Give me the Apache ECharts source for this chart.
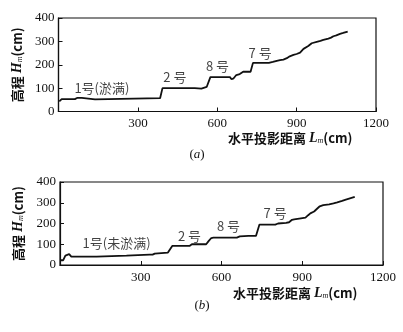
<!DOCTYPE html>
<html>
<head>
<meta charset="utf-8">
<script src="https://cdn.jsdelivr.net/npm/echarts@6/dist/echarts.min.js"></script>
<style>
html,body{margin:0;padding:0;background:#fff;}
#c{width:403px;height:332px;}
</style>
</head>
<body>
<div id="c"></div>
<script>
// ---- data (a) ----
const aX = [3,12,62,70,88,94,138,145,384,393,515,522,540,560,566,574,648,654,662,672,685,698,726,735,795,810,825,837,850,863,874,888,900,913,926,944,957,976,990,1001,1020,1030,1039,1050,1064,1076,1093];
const aY = [43,53,53,58,58,52,52,57,57,100,100,93,98,105,107,147,147,138,142,156,160,170,170,208,208,212,217,220,222,228,236,242,246,252,268,280,292,298,302,306,312,316,322,326,332,336,342];
// ---- data (b) ----
const bX = [0,12,20,26,34,42,136,142,247,253,333,338,344,352,358,401,408,417,481,490,543,552,562,570,657,662,668,700,716,722,728,741,800,810,840,851,862,870,895,912,922,930,944,954,965,978,1000,1016,1030,1048,1062,1077,1095];
const bY = [23,23,45,52,52,40,40,45,45,50,50,55,50,55,60,60,52,92,92,100,100,115,130,132,132,125,138,140,140,145,140,195,195,200,203,206,218,220,225,228,240,249,258,270,283,289,292,297,302,309,315,321,328];
// ---- annotations ----
const aNotes = [[164,100,'1号(淤满)'],[440,148,'2 号'],[601,195,'8 号'],[762,250,'7 号']];
const bNotes = [[210,106,'1号(未淤满)'],[481,140,'2 号'],[626,188,'8 号'],[799,251,'7 号']];
// ---- tick settings ----
const xTicks = {min:0, max:1200, interval:300};
const yTicks = {min:0, max:400, interval:100};

const zip = (xs, ys) => xs.map((x,i)=>[x, ys[i]]);
const ink = '#111';
const numFont = 'Liberation Serif';
const cjk = 'Noto Sans CJK SC';

function xAxis(idx){
  return {
    gridIndex: idx, type:'value', min:xTicks.min, max:xTicks.max, interval:xTicks.interval,
    axisLine:{show:true, lineStyle:{color:ink, width:1.2}},
    axisTick:{show:true, inside:true, length:4, lineStyle:{color:ink}},
    axisLabel:{color:ink, fontFamily:numFont, fontSize:13, margin:6,
      formatter: v => v === 0 ? '' : String(v)},
    splitLine:{show:false}
  };
}
function yAxis(idx, gap){
  return {
    gridIndex: idx, type:'value', min:yTicks.min, max:yTicks.max, interval:yTicks.interval,
    axisLine:{show:true, lineStyle:{color:ink, width:1.2}},
    axisTick:{show:true, inside:true, length:4, lineStyle:{color:ink}},
    axisLabel:{color:ink, fontFamily:numFont, fontSize:13, margin:4},
    splitLine:{show:false},
    name:'{a|高程 }{i|H}{s|m}{a|(cm)}',
    nameLocation:'middle', nameGap:gap, nameRotate:90,
    nameTextStyle:{
      rich:{
        a:{fontFamily:cjk, fontSize:13, color:ink, fontWeight:'bold'},
        i:{fontFamily:numFont, fontStyle:'italic', fontSize:14, color:ink, fontWeight:'bold'},
        s:{fontFamily:numFont, fontStyle:'italic', fontSize:8, color:ink, verticalAlign:'bottom', padding:[5,0,0,0]}
      }
    }
  };
}
function lineSeries(idx, data){
  return {type:'line', xAxisIndex:idx, yAxisIndex:idx, data, showSymbol:false, symbol:'none',
    lineStyle:{color:ink, width:1.8}, animation:false, silent:true};
}
function noteSeries(idx, notes){
  return {type:'scatter', xAxisIndex:idx, yAxisIndex:idx, data:notes, symbolSize:0, silent:true,
    animation:false,
    label:{show:true, position:'inside', color:ink, fontFamily:cjk, fontSize:13,
      formatter: p => p.value[2]}};
}
function xName(x, y){
  return {type:'text', x, y, silent:true,
    style:{text:'{a|水平投影距离 }{i|L}{s|m}{a|(cm)}', verticalAlign:'middle',
      rich:{
        a:{fontFamily:cjk, fontSize:13, fill:ink, fontWeight:'bold'},
        i:{fontFamily:numFont, fontStyle:'italic', fontSize:14, fill:ink, fontWeight:'bold'},
        s:{fontFamily:numFont, fontStyle:'italic', fontSize:8, fill:ink, padding:[6,0,0,0]}
      }}};
}
function caption(x, y, letter){
  return {type:'text', x, y, silent:true,
    style:{text:'{p|(}{i|'+letter+'}{p|)}', align:'center', verticalAlign:'middle',
      rich:{p:{fontFamily:numFont, fontSize:13, fill:ink}, i:{fontFamily:numFont, fontStyle:'italic', fontSize:13, fill:ink}}}};
}

const chart = echarts.init(document.getElementById('c'), null, {renderer:'canvas'});
chart.setOption({
  backgroundColor:'#fff',
  animation:false,
  grid:[
    {left:58.5, right:27, top:18, height:93.5, show:true, borderColor:ink, borderWidth:1.2, containLabel:false},
    {left:60, right:20, top:182, height:83, show:true, borderColor:ink, borderWidth:1.2, containLabel:false}
  ],
  xAxis:[xAxis(0), xAxis(1)],
  yAxis:[yAxis(0, 33), yAxis(1, 35)],
  series:[
    lineSeries(0, zip(aX, aY)),
    lineSeries(1, zip(bX, bY)),
    noteSeries(0, aNotes),
    noteSeries(1, bNotes)
  ],
  graphic:[
    xName(228, 138),
    xName(233, 293),
    caption(197, 155, 'a'),
    caption(202, 306, 'b')
  ]
});
</script>
</body>
</html>
